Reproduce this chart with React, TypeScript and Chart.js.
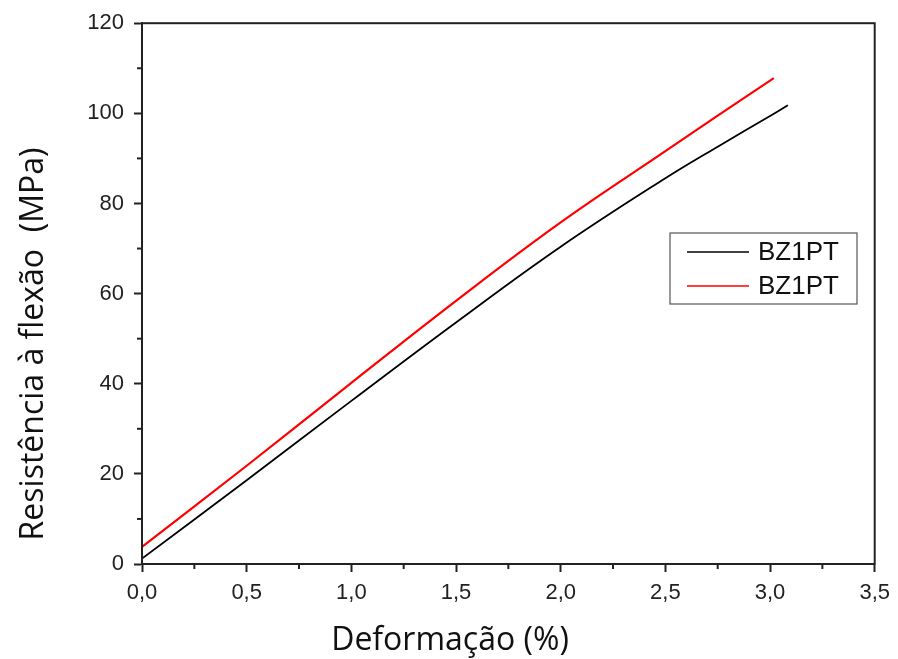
import React, { useEffect, useRef } from "react";
import { Chart, registerables } from "chart.js";

Chart.register(...registerables);

const seriesLabels = ["BZ1PT", "BZ1PT"];
const seriesColors = ["#000000", "#ff0000"];

const blackX = [0, 0.5, 1.0, 1.5, 2.0, 2.5, 2.75, 3.0, 3.085];
const blackY = [1.2, 18.6, 36.2, 53.6, 70.4, 85.6, 92.6, 99.4, 101.8];

const redX = [0, 0.5, 1.0, 1.5, 2.0, 2.5, 2.75, 3.018];
const redY = [3.8, 21.8, 40.2, 58.4, 75.8, 91.6, 99.5, 107.8];

const xTicks = [0, 0.5, 1.0, 1.5, 2.0, 2.5, 3.0, 3.5];
const yTicks = [0, 20, 40, 60, 80, 100, 120];

const xTitle = "Deformação (%)";
const yTitle = "Resistência à flexão  (MPa)";

const framePlugin = {
  id: "frameAndMinor",
  afterDraw(chart: any) {
    const { ctx, chartArea } = chart;
    const xs = chart.scales.x;
    const ys = chart.scales.y;
    ctx.save();
    ctx.strokeStyle = "#222";
    ctx.lineWidth = 2;
    ctx.strokeRect(chartArea.left, chartArea.top, chartArea.right - chartArea.left, chartArea.bottom - chartArea.top);
    // minor ticks
    for (let i = 0; i < xTicks.length - 1; i++) {
      const v = (xTicks[i] + xTicks[i + 1]) / 2;
      const px = xs.getPixelForValue(v);
      ctx.beginPath();
      ctx.moveTo(px, chartArea.bottom);
      ctx.lineTo(px, chartArea.bottom + 5);
      ctx.stroke();
    }
    for (let i = 0; i < yTicks.length - 1; i++) {
      const v = (yTicks[i] + yTicks[i + 1]) / 2;
      const py = ys.getPixelForValue(v);
      ctx.beginPath();
      ctx.moveTo(chartArea.left, py);
      ctx.lineTo(chartArea.left - 5, py);
      ctx.stroke();
    }
    // axis titles
    ctx.fillStyle = "#111";
    ctx.font = "32px 'Open Sans', sans-serif";
    ctx.textAlign = "center";
    ctx.textBaseline = "alphabetic";
    ctx.fillText(xTitle, 450, 650);
    ctx.save();
    ctx.translate(43, 344);
    ctx.rotate(-Math.PI / 2);
    ctx.fillText(yTitle, 0, 0);
    ctx.restore();
    // legend
    const lx = 670, ly = 233, lw = 187, lh = 71;
    ctx.lineWidth = 1.2;
    ctx.strokeStyle = "#555";
    ctx.strokeRect(lx, ly, lw, lh);
    ctx.font = "26px 'Liberation Sans', Arial, sans-serif";
    ctx.textBaseline = "middle";
    ctx.textAlign = "left";
    chart.data.datasets.forEach((ds: any, i: number) => {
      const y = ly + 19 + i * 34;
      ctx.strokeStyle = ds.borderColor;
      ctx.lineWidth = 1.5;
      ctx.beginPath();
      ctx.moveTo(687, y);
      ctx.lineTo(749, y);
      ctx.stroke();
      ctx.fillStyle = "#111";
      ctx.fillText(ds.label, 758, y + 1);
    });
    ctx.restore();
  },
};

export default function App() {
  const ref = useRef<HTMLCanvasElement | null>(null);
  useEffect(() => {
    if (!ref.current) return;
    const tickFont = { family: "'Liberation Sans', Arial, sans-serif", size: 22 };
    const chart = new Chart(ref.current, {
      type: "line",
      data: {
        datasets: [
          {
            label: seriesLabels[0],
            data: blackX.map((x, i) => ({ x, y: blackY[i] })),
            borderColor: seriesColors[0],
            borderWidth: 1.8,
            pointRadius: 0,
            tension: 0.4,
          },
          {
            label: seriesLabels[1],
            data: redX.map((x, i) => ({ x, y: redY[i] })),
            borderColor: seriesColors[1],
            borderWidth: 2.2,
            pointRadius: 0,
            tension: 0.4,
          },
        ],
      },
      options: {
        responsive: false,
        animation: false,
        layout: { padding: { left: 0, right: 22, top: 21, bottom: 0 } },
        plugins: { legend: { display: false }, tooltip: { enabled: false } },
        scales: {
          x: {
            type: "linear",
            min: 0,
            max: 3.5,
            afterBuildTicks: (s: any) => {
              s.ticks = xTicks.map((v) => ({ value: v }));
            },
            afterFit: (s: any) => {
              s.height = 95;
            },
            ticks: {
              color: "#222",
              font: tickFont,
              padding: 8,
              maxRotation: 0,
              callback: (v: any) => Number(v).toFixed(1).replace(".", ","),
            },
            grid: {
              drawOnChartArea: false,
              drawTicks: true,
              tickLength: 8,
              tickWidth: 2,
              tickColor: "#222",
            },
            border: { color: "#222", width: 2 },
            title: { display: false, text: xTitle },
          },
          y: {
            type: "linear",
            min: 0,
            max: 120,
            afterBuildTicks: (s: any) => {
              s.ticks = yTicks.map((v) => ({ value: v }));
            },
            afterFit: (s: any) => {
              s.width = 142;
            },
            ticks: {
              color: "#222",
              font: tickFont,
              padding: 10,
              callback: (v: any) => String(v),
            },
            grid: {
              drawOnChartArea: false,
              drawTicks: true,
              tickLength: 8,
              tickWidth: 2,
              tickColor: "#222",
            },
            border: { color: "#222", width: 2 },
            title: { display: false, text: yTitle },
          },
        },
      },
      plugins: [framePlugin],
    } as any);
    return () => chart.destroy();
  }, []);
  return (
    <div style={{ position: "fixed", left: 0, top: 0, width: 898, height: 659, background: "#fff" }}>
      <canvas ref={ref} width={898} height={659} />
    </div>
  );
}
